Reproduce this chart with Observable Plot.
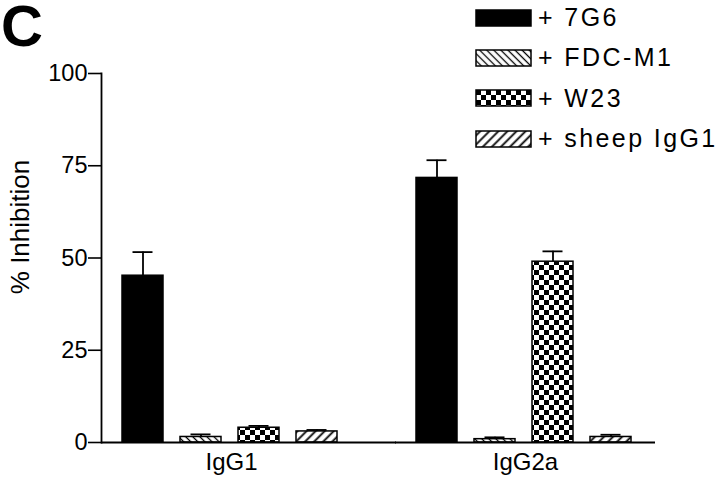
<!DOCTYPE html>
<html><head><meta charset="utf-8">
<script src="https://cdn.jsdelivr.net/npm/d3@7"></script>
<script src="https://cdn.jsdelivr.net/npm/@observablehq/plot@0.6"></script>
<style>
html,body{margin:0;padding:0;background:#fff;}
#wrap{position:relative;width:720px;height:478px;overflow:hidden;font-family:"Liberation Sans",Arial,sans-serif;color:#000;}
#chart{position:absolute;left:0;top:0;}
#panel{position:absolute;left:1px;top:0;font-size:58px;font-weight:bold;line-height:0.91;}
#legend{position:absolute;left:476px;top:-2.5px;}
#legend div.lg-swatches-columns div.lg-swatch{height:40.3px !important;padding:0 !important;margin:0 !important;}
#legend div.lg-swatch > svg{margin-right:7px !important;}
#legend div.lg-swatch rect{stroke:#000;stroke-width:1.5px;}
#legend div.lg-swatch-label{font-family:"Liberation Sans",Arial,sans-serif;font-size:25px;letter-spacing:2.4px;color:#000;overflow:visible !important;}
</style></head>
<body><div id="wrap"><div id="chart"></div><div id="panel">C</div><div id="legend"></div></div>
<script>
const groups = ["IgG1", "IgG2a"];
const series = ["7G6", "FDC-M1", "W23", "sheep IgG1"];
const igg1Means = [45.2, 1.5, 4.0, 3.0];
const igg1Errors = [6.4, 0.7, 0.5, 0.4];
const igg2aMeans = [71.7, 0.9, 49.0, 1.5];
const igg2aErrors = [4.8, 0.5, 2.8, 0.6];
const yTicks = [0, 25, 50, 75, 100];
const seriesFills = ["#000", "url(#pat-fdc)", "url(#pat-w23)", "url(#pat-sheep)"];
const yLabel = "% Inhibition";

const rows = [];
groups.forEach((g, gi) => {
  const m = gi ? igg2aMeans : igg1Means;
  const e = gi ? igg2aErrors : igg1Errors;
  series.forEach((s, i) => rows.push({group: g, series: s, value: m[i], top: m[i] + e[i]}));
});

const chart = Plot.plot({
  width: 720, height: 478,
  marginLeft: 101, marginRight: 65, marginTop: 73, marginBottom: 36,
  style: {fontFamily: '"Liberation Sans", Arial, sans-serif', background: "#fff", color: "#000"},
  fx: {domain: groups, paddingInner: 0.116, paddingOuter: 0, label: null},
  x: {domain: series, paddingInner: 0.3, paddingOuter: 0.365, align: 0.47, axis: null},
  y: {domain: [0, 100]},
  color: {type: "ordinal", domain: series, range: seriesFills},
  marks: [
    Plot.barY(rows, {fx: "group", x: "series", y: "value", fill: "series", stroke: "#000", strokeWidth: 1.5}),
    Plot.ruleX(rows, {fx: "group", x: "series", y1: "value", y2: "top", strokeWidth: 1.8}),
    Plot.tickY(rows, {fx: "group", x: "series", y: "top", strokeWidth: 1.8, insetLeft: 10.5, insetRight: 10.5}),
    Plot.ruleY([groups[0]], {fx: d => d, y: () => 0, strokeWidth: 2, insetRight: -35}),
    Plot.ruleY([groups[1]], {fx: d => d, y: () => 0, strokeWidth: 2}),
    Plot.frame({anchor: "left", facetAnchor: "left", strokeWidth: 1.8}),
    Plot.axisY({ticks: yTicks, tickSize: 13, tickPadding: 1, fontSize: 23.5, strokeWidth: 1.6, label: null}),
    Plot.axisFx({anchor: "bottom", tickSize: 0, tickPadding: 10, fontSize: 24, label: null}),
    Plot.text([yLabel], {facet: "super", frameAnchor: "left", textAnchor: "middle", lineAnchor: "middle", rotate: -90, dx: -81, dy: -31, fontSize: 26})
  ]
});

d3.select(chart).insert("defs", ":first-child").html(`
<pattern id="pat-fdc" patternUnits="userSpaceOnUse" width="5" height="5" patternTransform="rotate(-45)">
  <rect width="5" height="5" fill="#fff"/><line x1="2.5" y1="-1" x2="2.5" y2="6" stroke="#000" stroke-width="1.3"/>
</pattern>
<pattern id="pat-sheep" patternUnits="userSpaceOnUse" width="6.4" height="6.4" patternTransform="rotate(45)">
  <rect width="6.4" height="6.4" fill="#fff"/><line x1="3.2" y1="-1" x2="3.2" y2="7.4" stroke="#000" stroke-width="1.8"/>
</pattern>
<pattern id="pat-w23" patternUnits="userSpaceOnUse" width="10" height="10">
  <rect width="10" height="10" fill="#fff"/><rect width="5" height="5" fill="#000"/><rect x="5" y="5" width="5" height="5" fill="#000"/>
</pattern>`);

document.getElementById("chart").appendChild(chart);

const legend = chart.legend("color", {
  legend: "swatches", columns: 1, swatchWidth: 55, swatchHeight: 16,
  className: "lg", tickFormat: d => "+ " + d
});
document.getElementById("legend").appendChild(legend);
</script>
</body></html>
